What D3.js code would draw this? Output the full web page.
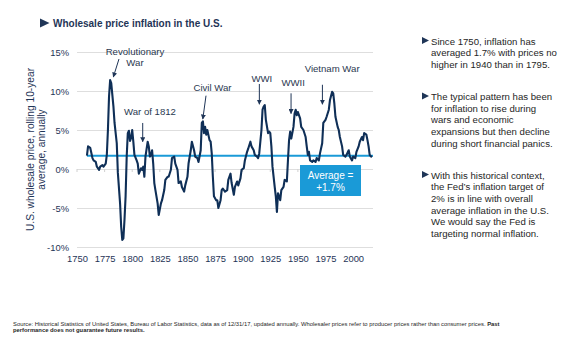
<!DOCTYPE html>
<html>
<head>
<meta charset="utf-8">
<script src="https://cdn.jsdelivr.net/npm/d3@7"></script>
<style>
  html, body { margin: 0; padding: 0; background: #fff; }
  svg { display: block; font-family: "Liberation Sans", Arial, sans-serif; }
</style>
</head>
<body>
<svg id="chart" width="573" height="346"></svg>
<script>
// Rolling 10-year average of U.S. wholesale price inflation, % per year
const years = [
  1759,1760,1762,1764,1765,1767,1768,1770,1771,1773,1774,1776,1777,1778,1779,1780,1781,1783,1784,1786,
  1787,1789,1790,1791,1792,1793,1794,1795,1796,1797,1798,1799,1800,1801,1802,1804,1805,1806,1808,1809,
  1810,1811,1812,1814,1815,1816,1817,1818,1819,1820,1821,1823,1824,1826,1827,1829,1830,1832,1833,1835,
  1836,1838,1839,1841,1842,1844,1845,1847,1848,1850,1851,1853,1854,1856,1857,1859,1860,1862,1863,1864,
  1865,1866,1867,1868,1870,1871,1872,1873,1874,1876,1877,1878,1880,1881,1882,1884,1886,1887,1889,1890,
  1892,1893,1895,1896,1898,1899,1901,1902,1904,1905,1907,1908,1910,1911,1913,1914,1915,1917,1918,1919,
  1920,1921,1923,1924,1925,1926,1927,1929,1930,1931,1932,1934,1935,1937,1938,1940,1941,1942,1943,1944,
  1946,1947,1948,1949,1950,1952,1953,1955,1957,1958,1959,1960,1961,1963,1964,1966,1967,1969,1970,1972,
  1973,1975,1976,1978,1979,1981,1982,1983,1984,1986,1987,1988,1990,1991,1993,1994,1996,1997,1999,2000,
  2002,2003,2005,2006,2008,2009,2010,2012,2013,2014,2015,2017
];
const inflation = [
  1.7,2.9,2.7,1.4,1.1,0.9,0.3,-0.1,0.3,0.5,0.3,0.7,1.8,5.0,9.3,11.4,11.0,8.0,5.9,3.3,
  -0.5,-4.4,-7.4,-9.1,-8.9,-6.5,-3.5,1.6,4.6,4.9,3.6,4.0,5.0,3.5,1.8,1.1,0.7,-0.6,0.1,-0.1,
  0.3,-1.0,1.6,3.5,2.9,1.6,1.8,2.4,0.7,-1.8,-2.7,-4.4,-5.9,-4.4,-4.0,-2.7,-1.4,-1.0,-1.0,-0.1,
  1.4,1.6,0.7,-0.1,-1.8,-1.6,-2.3,-2.9,-2.1,-1.0,0.7,2.4,3.5,2.4,1.6,1.4,0.9,2.4,5.9,6.1,
  4.6,5.4,4.4,5.0,3.7,3.5,2.0,-1.0,-3.5,-4.0,-4.0,-5.0,-4.0,-2.7,-2.5,-2.9,-2.7,-1.4,-0.6,-1.8,
  -3.3,-2.3,-1.6,-2.1,-1.2,-0.1,0.1,1.1,2.2,2.6,3.5,2.9,2.4,1.8,1.6,1.4,2.0,5.0,7.6,8.0,
  8.2,6.3,4.6,4.8,4.6,2.9,0.3,-2.3,-3.5,-5.5,-3.1,-4.0,-2.7,-2.3,-1.4,-1.6,1.1,3.7,4.8,3.9,
  5.4,7.1,7.6,6.9,7.3,6.5,5.4,5.0,4.1,2.9,1.8,2.2,1.1,0.9,1.1,0.9,1.4,1.1,2.0,3.3,
  5.9,6.3,6.7,7.6,8.8,9.9,9.7,8.4,6.7,5.4,5.0,4.1,2.9,1.8,1.6,1.8,2.4,1.6,1.1,1.6,
  1.4,2.2,2.9,3.5,4.1,3.7,4.6,4.4,3.7,2.9,1.8,1.5
];
const averageInflation = 1.7;

const xTicks = [1750,1775,1800,1825,1850,1875,1900,1925,1950,1975,2000];
const yTicks = [-10,-5,0,5,10,15];

// Event labels: arrow from the tail point down to the tip point
const eventNames  = [["Revolutionary","War"], ["War of 1812"], ["Civil War"], ["WWI"], ["WWII"], ["Vietnam War"]];
const eventLabelYear = [1802.5, 1816.1, 1872.7, 1917.3, 1945.7, 1981.0];
const eventLabelValue = [14.6, 6.9, 10.0, 11.2, 10.6, 12.4];
const eventTipYear  = [1782.9, 1809.5, 1863.9, 1915.1, 1943.8, 1972.2];
const eventTipValue = [11.8, 3.5, 6.4, 8.3, 7.1, 8.3];
const eventTailYear = [1788.0, 1809.5, 1866.8, 1915.1, 1943.8, 1972.2];
const eventTailValue = [14.1, 5.9, 9.4, 10.9, 9.7, 10.8];

const bullets = [
  ["Since 1750, inflation has", "averaged 1.7% with prices no", "higher in 1940 than in 1795."],
  ["The typical pattern has been", "for inflation to rise during", "wars and economic", "expansions but then decline", "during short financial panics."],
  ["With this historical context,", "the Fed\u2019s inflation target of", "2% is in line with overall", "average inflation in the U.S.", "We would say the Fed is", "targeting normal inflation."]
];

const navy = "#0f2f57";
const labelColor = "#1f3557";
const textColor = "#262626";
const avgBlue = "#1a9ad7";

const svg = d3.select("#chart");

const x = d3.scaleLinear().domain([1750, 2018]).range([77, 373]);
const y = d3.scaleLinear().domain([-10, 15]).range([247, 52]);

// Title
svg.append("path")
  .attr("d", "M40,18.5 L49.5,23 L40,27.5 Z")
  .attr("fill", "#1f3557");
svg.append("text")
  .attr("x", 53).attr("y", 27)
  .attr("font-size", 10).attr("font-weight", "bold")
  .attr("fill", "#1f3557")
  .text("Wholesale price inflation in the U.S.");

// Y gridlines and labels
const yAxis = svg.append("g")
  .attr("transform", `translate(${x.range()[0]},0)`)
  .call(d3.axisLeft(y).tickValues(yTicks).tickSize(-(x.range()[1] - x.range()[0]))
    .tickFormat(d => d + "%").tickPadding(8));
yAxis.select(".domain").remove();
yAxis.selectAll(".tick line").attr("stroke", "#dedede").attr("stroke-width", 1);
yAxis.selectAll(".tick text").attr("font-size", 9.4).attr("fill", labelColor)
  .attr("font-family", "Liberation Sans, Arial, sans-serif");

// Small ticks on the zero line
svg.append("g").selectAll("line").data(xTicks).join("line")
  .attr("x1", d => x(d)).attr("x2", d => x(d))
  .attr("y1", y(0)).attr("y2", y(0) + 3)
  .attr("stroke", "#d0d0d0");

// X labels
const xAxis = svg.append("g")
  .attr("transform", `translate(0,${y.range()[0]})`)
  .call(d3.axisBottom(x).tickValues(xTicks).tickFormat(d3.format("d")).tickSize(0).tickPadding(8));
xAxis.select(".domain").remove();
xAxis.selectAll(".tick text").attr("font-size", 9.4).attr("fill", labelColor)
  .attr("font-family", "Liberation Sans, Arial, sans-serif");

// Y-axis title
const yTitle = svg.append("text")
  .attr("transform", `translate(34,${(y.range()[0] + y.range()[1]) / 2}) rotate(-90)`)
  .attr("text-anchor", "middle")
  .attr("font-size", 10.2).attr("fill", labelColor);
yTitle.append("tspan").attr("x", 0).attr("dy", 0).text("U.S. wholesale price, rolling 10-year");
yTitle.append("tspan").attr("x", 0).attr("dy", 11).text("average, annually");

// Average line
svg.append("line")
  .attr("x1", x(years[0])).attr("x2", x.range()[1])
  .attr("y1", y(averageInflation)).attr("y2", y(averageInflation))
  .attr("stroke", avgBlue).attr("stroke-width", 2);

// Inflation series
const series = years.map((yr, i) => [yr, inflation[i]]);
svg.append("path")
  .datum(series)
  .attr("fill", "none")
  .attr("stroke", navy)
  .attr("stroke-width", 2.1)
  .attr("stroke-linejoin", "round")
  .attr("d", d3.line().x(d => x(d[0])).y(d => y(d[1])));

// Average callout
const boxX = 300, boxY = 165, boxW = 61, boxH = 31;
svg.append("rect")
  .attr("x", boxX).attr("y", boxY).attr("width", boxW).attr("height", boxH)
  .attr("fill", avgBlue);
svg.append("text")
  .attr("x", boxX + boxW / 2).attr("y", boxY + 14)
  .attr("text-anchor", "middle").attr("font-size", 10).attr("fill", "#fff")
  .text("Average =");
svg.append("text")
  .attr("x", boxX + boxW / 2).attr("y", boxY + 26)
  .attr("text-anchor", "middle").attr("font-size", 10).attr("fill", "#fff")
  .text("+" + averageInflation + "%");

// Event annotations
svg.append("defs").append("marker")
  .attr("id", "arrowhead")
  .attr("viewBox", "0 0 10 10")
  .attr("refX", 9).attr("refY", 5)
  .attr("markerWidth", 5).attr("markerHeight", 5)
  .attr("orient", "auto")
  .append("path").attr("d", "M0,0 L10,5 L0,10 Z").attr("fill", "#1f3557");

eventNames.forEach((lines, i) => {
  const t = svg.append("text")
    .attr("text-anchor", "middle")
    .attr("font-size", 9.6)
    .attr("fill", "#2a3850");
  lines.forEach((ln, j) => {
    t.append("tspan")
      .attr("x", x(eventLabelYear[i]))
      .attr("y", y(eventLabelValue[i]) + j * 11)
      .text(ln);
  });
  svg.append("line")
    .attr("x1", x(eventTailYear[i])).attr("y1", y(eventTailValue[i]))
    .attr("x2", x(eventTipYear[i])).attr("y2", y(eventTipValue[i]))
    .attr("stroke", "#1f3557").attr("stroke-width", 1)
    .attr("marker-end", "url(#arrowhead)");
});

// Commentary bullets
const bulletTop = [44.5, 100, 178.5];
bullets.forEach((para, i) => {
  const by = bulletTop[i];
  svg.append("path")
    .attr("d", `M422,${by - 7.5} L429,${by - 4} L422,${by - 0.5} Z`)
    .attr("fill", "#1f3557");
  const t = svg.append("text").attr("font-size", 9.6).attr("fill", textColor);
  para.forEach((ln, j) => {
    t.append("tspan").attr("x", 431).attr("y", by + j * 11.7).text(ln);
  });
});

// Footnote
const foot = svg.append("text").attr("font-size", 5.85).attr("fill", textColor);
foot.append("tspan").attr("x", 13).attr("y", 326)
  .text("Source: Historical Statistics of United States, Bureau of Labor Statistics, data as of 12/31/17, updated annually. Wholesaler prices refer to producer prices rather than consumer prices. ");
foot.append("tspan").attr("font-weight", "bold").text("Past");
svg.append("text").attr("font-size", 5.85).attr("font-weight", "bold").attr("fill", textColor)
  .attr("x", 13).attr("y", 332)
  .text("performance does not guarantee future results.");
</script>
</body>
</html>
